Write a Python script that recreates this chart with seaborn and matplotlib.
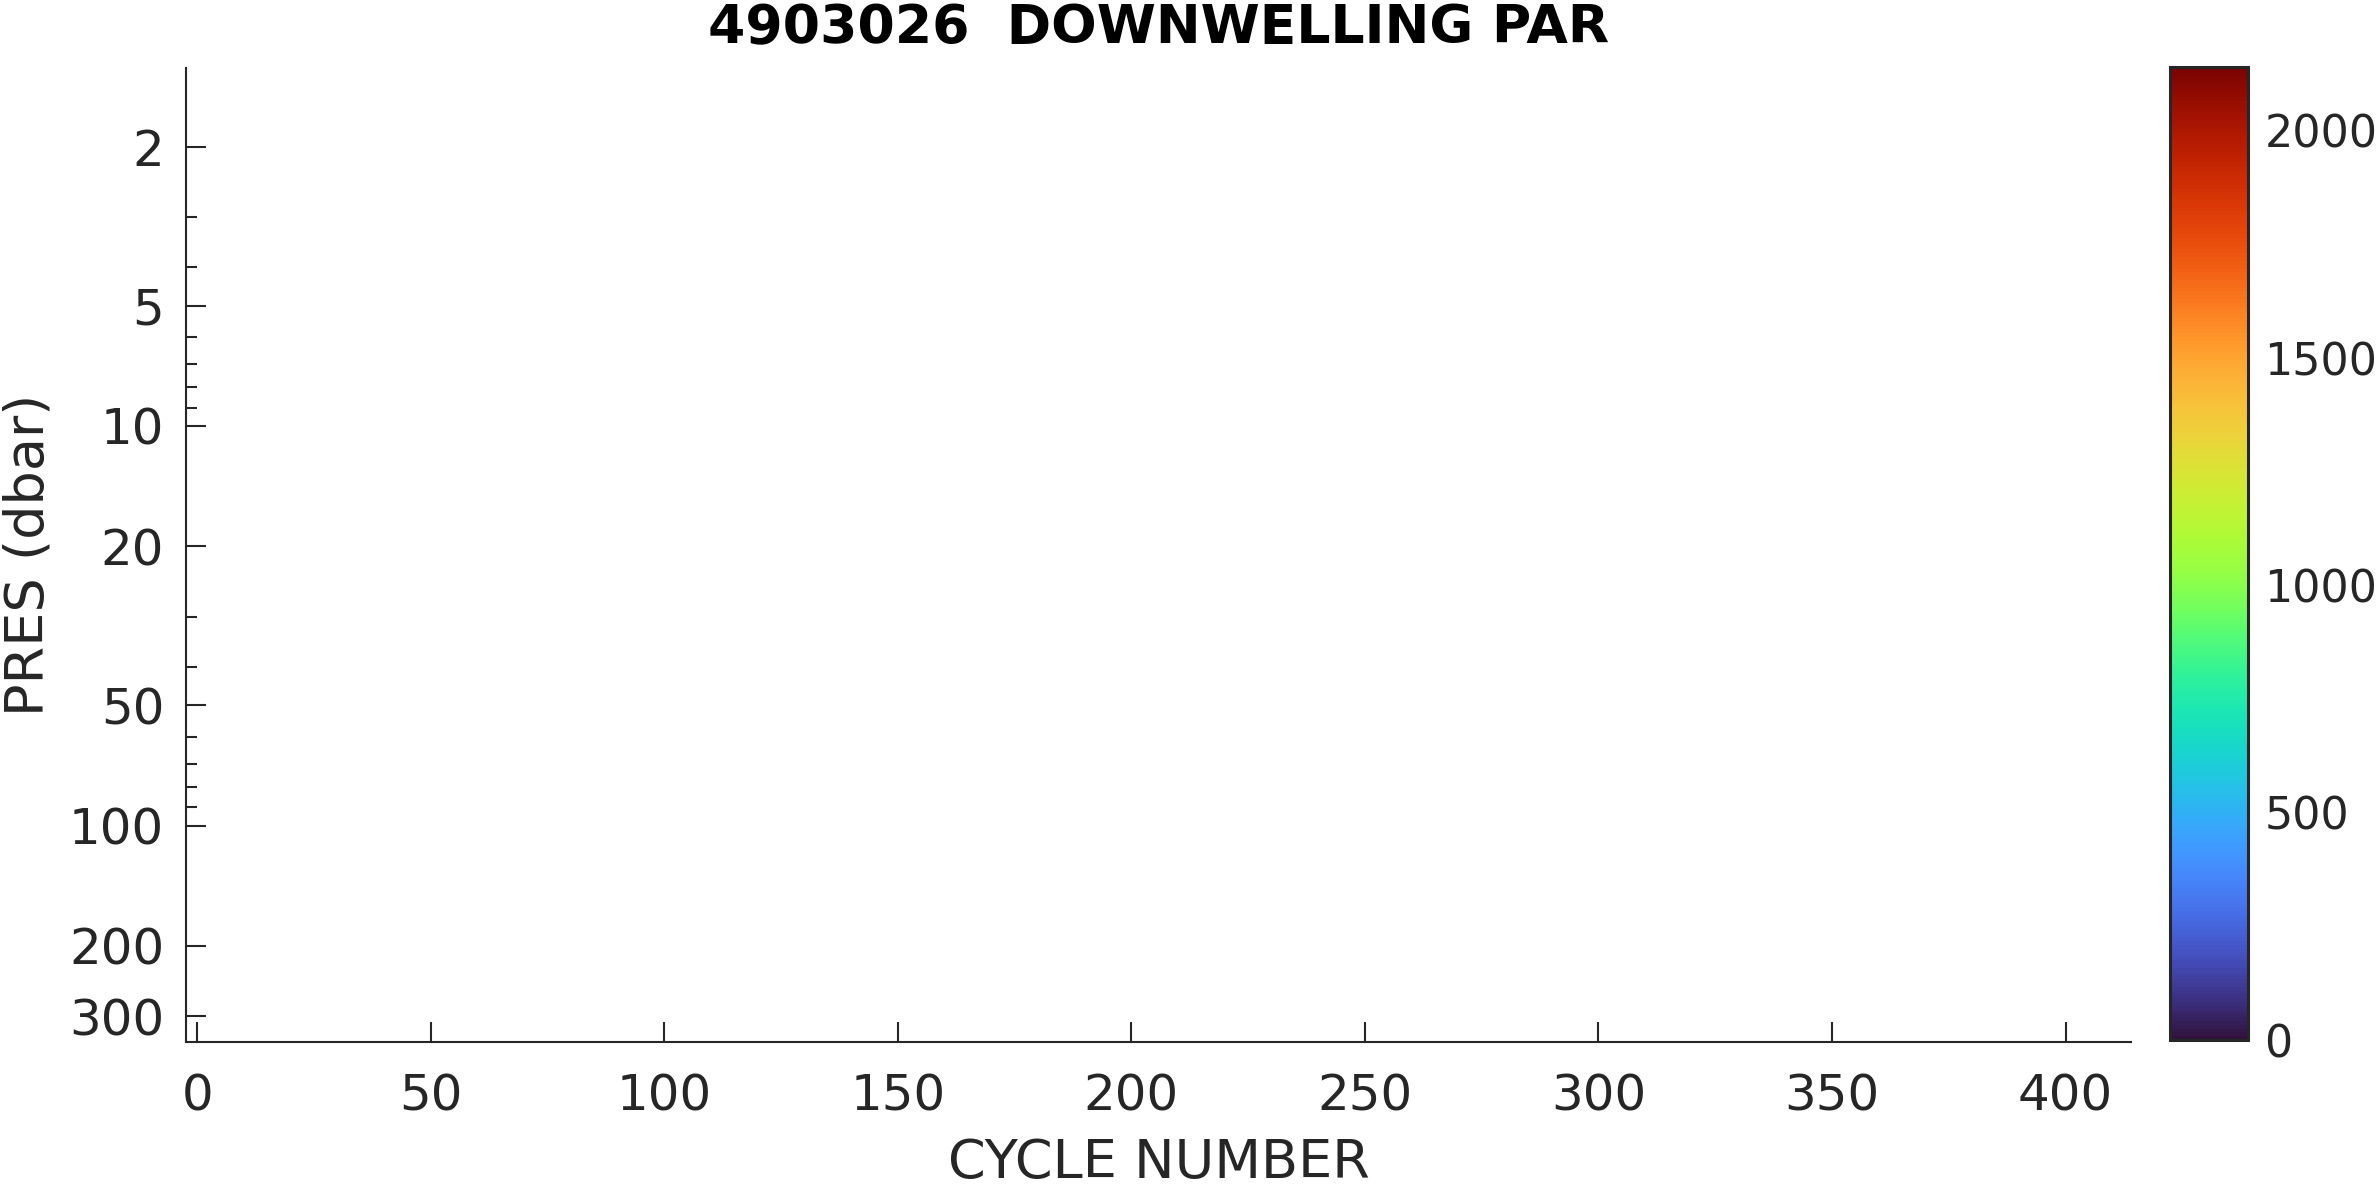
#%% Section PAR descendant du flotteur 4903026 (aucun profil valide)
import numpy as np
import pandas as pd
import matplotlib
matplotlib.use("Agg")
import matplotlib.pyplot as plt
import seaborn as sns
from matplotlib.colors import Normalize
from matplotlib.cm import ScalarMappable
from matplotlib.ticker import FixedLocator, NullFormatter

#%% Données

float_id = "4903026"
param_name = "DOWNWELLING PAR"

# pas de mesure exploitable : tableaux vides
cycle = np.array([], dtype=float)
pres = np.array([], dtype=float)
par = np.array([], dtype=float)

cycle_lim = [-2.3, 414]
pres_lim = [348, 1.27]
par_lim = [0, 2140]

x_ticks = [0, 50, 100, 150, 200, 250, 300, 350, 400]
y_major = [2, 5, 10, 20, 50, 100, 200, 300]
y_minor = [3, 4, 6, 7, 8, 9, 30, 40, 60, 70, 80, 90]
cbar_ticks = [0, 500, 1000, 1500, 2000]

df = pd.DataFrame({'CYCLE': cycle, 'PRES': pres, 'PAR': par})

#%% Figure

sns.set_style("ticks")
plt.rcParams['font.family'] = ['DejaVu Sans']

fig = plt.figure(figsize=(11.89, 5.935), dpi=200)
ax = fig.add_axes([0.0784, 0.1222, 0.8177, 0.8206])
cax = fig.add_axes([0.9125, 0.1238, 0.0328, 0.8197])

norm = Normalize(vmin=par_lim[0], vmax=par_lim[1])
sns.scatterplot(data=df, x='CYCLE', y='PRES', ax=ax, legend=False)

ax.set_yscale('log')
ax.set_xlim(cycle_lim)
ax.set_ylim(pres_lim)
ax.xaxis.set_major_locator(FixedLocator(x_ticks))
ax.yaxis.set_major_locator(FixedLocator(y_major))
ax.yaxis.set_minor_locator(FixedLocator(y_minor))
ax.yaxis.set_minor_formatter(NullFormatter())
ax.set_yticklabels([str(v) for v in y_major])
ax.xaxis.set_minor_locator(FixedLocator([]))

sns.despine(ax=ax)
for s in ['left', 'bottom']:
    ax.spines[s].set_linewidth(0.75)
ax.tick_params(axis='both', which='major', direction='in', length=7.2, width=0.75,
               labelsize=18, pad=8)
ax.tick_params(axis='y', which='minor', direction='in', length=4, width=0.75)
ax.tick_params(axis='x', pad=11)

ax.set_xlabel('CYCLE NUMBER', fontsize=19.5, labelpad=6)
ax.set_ylabel('PRES (dbar)', fontsize=19.5)
ax.yaxis.set_label_coords(-0.0676, 0.5)
ax.set_title(f'{float_id}  {param_name}', fontsize=19.3, fontweight='bold',
             color='black', pad=9)

cb = fig.colorbar(ScalarMappable(norm=norm, cmap='turbo'), cax=cax)
cb.set_ticks(cbar_ticks)
cb.ax.tick_params(direction='in', length=4, width=0.75, labelsize=16, pad=6)
cb.outline.set_linewidth(1.1)

fig.savefig('out.png', dpi=200)
